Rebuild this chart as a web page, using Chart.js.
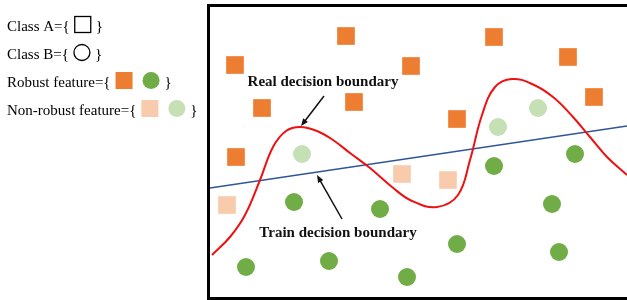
<!DOCTYPE html>
<html lang="en">
<head>
  <meta charset="UTF-8" />
  <title>Decision boundaries</title>
  <script src="https://cdn.jsdelivr.net/npm/chart.js"></script>
  <style>
    body {
      margin: 0;
      padding: 0;
      background: white;
    }
    #wrap {
      position: relative;
      width: 627px;
      height: 300px;
    }
  </style>
</head>
<body>
  <div id="wrap">
    <canvas id="boundaryChart" width="627" height="300"></canvas>
  </div>

  <script>
    // data points, [x, y] in the chart's own units (x 0..417, y 0..290)
    const robustA = [[136, 261], [25, 232], [201, 231], [52, 189], [144, 195], [284, 260], [358, 240], [384, 200], [247, 178], [26, 140]];
    const nonRobustA = [[17, 92], [192, 123], [238, 117]];
    const robustB = [[84, 95], [170, 88], [284, 131], [365, 143], [342, 93], [36, 30], [119, 36], [197, 20], [247, 53], [349, 45]];
    const nonRobustB = [[288, 170], [328, 189], [92, 143]];

    const realBoundary = [[2, 42], [20, 60], [35, 82], [50, 117], [63, 150], [76, 166], [90, 170], [107, 166], [123, 157],
      [140, 144], [160, 129], [182, 110], [202, 96], [227, 90], [248, 102], [260, 137], [272, 182], [285, 210],
      [302, 218], [322, 213], [343, 200], [363, 180], [380, 160], [397, 140], [417, 122]];
    const trainBoundary = [[0, 109], [417, 171]];

    // annotation labels: text position, arrow start, arrow tip
    const notes = [
      { text: "Real decision boundary", at: [113, 215], from: [114, 201], to: [91, 171] },
      { text: "Train decision boundary", at: [128, 64], from: [132, 78], to: [107, 122] }
    ];

    const ORANGE = "#ED7D31";
    const LIGHT_ORANGE = "#F8CBAD";
    const GREEN = "#70AD47";
    const LIGHT_GREEN = "#C5E0B4";

    const legendRows = [
      { label: "Class A={", icons: [{ shape: "square", fill: null }] },
      { label: "Class B={", icons: [{ shape: "circle", fill: null }] },
      { label: "Robust feature={", icons: [{ shape: "square", fill: ORANGE }, { shape: "circle", fill: GREEN }] },
      { label: "Non-robust feature={", icons: [{ shape: "square", fill: LIGHT_ORANGE }, { shape: "circle", fill: LIGHT_GREEN }] }
    ];

    const toXY = arr => arr.map(p => ({ x: p[0], y: p[1] }));

    function drawArrow(ctx, x1, y1, x2, y2) {
      const ang = Math.atan2(y2 - y1, x2 - x1);
      const head = 8;
      ctx.beginPath();
      ctx.moveTo(x1, y1);
      ctx.lineTo(x2 - Math.cos(ang) * head * 0.8, y2 - Math.sin(ang) * head * 0.8);
      ctx.stroke();
      ctx.beginPath();
      ctx.moveTo(x2, y2);
      ctx.lineTo(x2 - head * Math.cos(ang - 0.38), y2 - head * Math.sin(ang - 0.38));
      ctx.lineTo(x2 - head * Math.cos(ang + 0.38), y2 - head * Math.sin(ang + 0.38));
      ctx.closePath();
      ctx.fill();
    }

    const extrasPlugin = {
      id: "extras",
      afterDraw(chart) {
        const ctx = chart.ctx;
        const area = chart.chartArea;
        const xs = chart.scales.x;
        const ys = chart.scales.y;

        // notes + arrows
        ctx.save();
        ctx.fillStyle = "#111";
        ctx.strokeStyle = "#111";
        ctx.lineWidth = 1.5;
        ctx.font = "bold 15px 'Liberation Serif', 'Times New Roman', serif";
        ctx.textAlign = "center";
        ctx.textBaseline = "middle";
        notes.forEach(n => {
          ctx.fillText(n.text, xs.getPixelForValue(n.at[0]), ys.getPixelForValue(n.at[1]));
          drawArrow(ctx, xs.getPixelForValue(n.from[0]), ys.getPixelForValue(n.from[1]),
            xs.getPixelForValue(n.to[0]), ys.getPixelForValue(n.to[1]));
        });
        ctx.restore();

        // frame (no right edge)
        ctx.save();
        ctx.strokeStyle = "#000";
        ctx.lineWidth = 3;
        ctx.lineJoin = "miter";
        ctx.beginPath();
        ctx.moveTo(chart.width + 2, area.top - 1.5);
        ctx.lineTo(area.left - 1.5, area.top - 1.5);
        ctx.lineTo(area.left - 1.5, area.bottom + 1.5);
        ctx.lineTo(chart.width + 2, area.bottom + 1.5);
        ctx.stroke();
        ctx.restore();

        // legend on the left
        ctx.save();
        ctx.font = "15px 'Liberation Serif', 'Times New Roman', serif";
        ctx.textAlign = "left";
        ctx.textBaseline = "alphabetic";
        ctx.fillStyle = "#000";
        legendRows.forEach((row, i) => {
          const base = 31 + i * 28;
          let x = 7;
          ctx.fillText(row.label, x, base);
          x += ctx.measureText(row.label).width + 5;
          row.icons.forEach((ic, j) => {
            const size = ic.fill ? 17 : 16;
            const cy = base - 6.5;
            if (ic.shape === "square") {
              if (ic.fill) {
                ctx.fillStyle = ic.fill;
                ctx.fillRect(x, cy - size / 2, size, size);
              } else {
                ctx.strokeStyle = "#000";
                ctx.lineWidth = 1.3;
                ctx.strokeRect(x, cy - size / 2, size, size);
              }
            } else {
              ctx.beginPath();
              ctx.arc(x + size / 2, cy, size / 2, 0, Math.PI * 2);
              if (ic.fill) {
                ctx.fillStyle = ic.fill;
                ctx.fill();
              } else {
                ctx.strokeStyle = "#000";
                ctx.lineWidth = 1.3;
                ctx.stroke();
              }
            }
            x += size + (j < row.icons.length - 1 ? 10 : 5);
          });
          ctx.fillStyle = "#000";
          ctx.fillText("}", x, base);
        });
        ctx.restore();
      }
    };

    const chart = new Chart(document.getElementById("boundaryChart").getContext("2d"), {
      type: "scatter",
      data: {
        datasets: [
          { label: "Robust A", data: toXY(robustA), pointStyle: "rect", pointRadius: 12.5, backgroundColor: ORANGE, borderWidth: 0, order: 3 },
          { label: "Non-robust A", data: toXY(nonRobustA), pointStyle: "rect", pointRadius: 12.5, backgroundColor: LIGHT_ORANGE, borderWidth: 0, order: 3 },
          { label: "Robust B", data: toXY(robustB), pointStyle: "circle", pointRadius: 9, backgroundColor: GREEN, borderWidth: 0, order: 3 },
          { label: "Non-robust B", data: toXY(nonRobustB), pointStyle: "circle", pointRadius: 9, backgroundColor: LIGHT_GREEN, borderWidth: 0, order: 3 },
          { label: "Real", data: toXY(realBoundary), showLine: true, pointRadius: 0, borderColor: "#EE1111", borderWidth: 2, tension: 0.4, order: 1 },
          { label: "Train", data: toXY(trainBoundary), showLine: true, pointRadius: 0, borderColor: "#2F5597", borderWidth: 1.6, order: 2 }
        ]
      },
      options: {
        responsive: false,
        animation: false,
        devicePixelRatio: 1,
        layout: { autoPadding: false, padding: { left: 210, top: 7, right: 0, bottom: 3 } },
        plugins: {
          legend: { display: false },
          tooltip: { enabled: false }
        },
        scales: {
          x: { type: "linear", min: 0, max: 417, display: false },
          y: { type: "linear", min: 0, max: 290, display: false }
        }
      },
      plugins: [extrasPlugin]
    });
  </script>
</body>
</html>
